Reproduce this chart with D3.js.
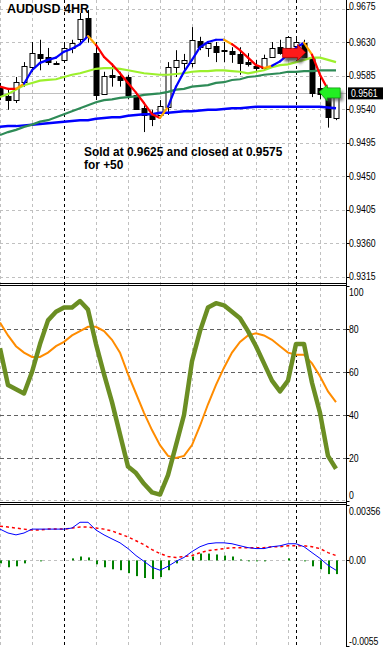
<!DOCTYPE html>
<html><head><meta charset="utf-8">
<script src="https://cdn.jsdelivr.net/npm/d3@7"></script>
<style>
html,body{margin:0;padding:0;background:#fff;}
svg{display:block;}
</style></head>
<body>
<svg id="c" width="384" height="647"></svg>
<script>
// ---------- DATA ----------
const title = "AUDUSD 4HR";
const noteLines = ["Sold at 0.9625 and closed at 0.9575", "for +50"];
const opens  = [.9570,.9557,.9552,.9576,.9596,.9614,.9610,.9602,.9606,.9622,.9634,.9662,.9615,.9560,.9586,.9584,.9583,.9559,.9541,.9532,.9532,.9543,.9597,.9602,.9602,.9631,.9622,.9625,.9619,.9618,.9614,.9603,.9598,.9595,.9610,.9623,.9622,.9624,.9629,.9610,.9568,.9561,.9528];
const highs  = [.9575,.9566,.9583,.9603,.9630,.9633,.9622,.9604,.9630,.9633,.9669,.9673,.9630,.9590,.9599,.9590,.9586,.9562,.9545,.9539,.9552,.9603,.9619,.9614,.9650,.9637,.9630,.9630,.9630,.9623,.9623,.9615,.9606,.9613,.9630,.9633,.9638,.9635,.9633,.9613,.9583,.9563,.9559];
const lows   = [.9552,.9539,.9548,.9570,.9590,.9592,.9599,.9600,.9603,.9615,.9629,.9629,.9552,.9559,.9570,.9570,.9553,.9539,.9509,.9517,.9530,.9532,.9583,.9590,.9596,.9619,.9610,.9603,.9603,.9602,.9586,.9597,.9590,.9592,.9609,.9613,.9619,.9618,.9609,.9556,.9553,.9515,.9525];
const closes = [.9559,.9552,.9576,.9598,.9615,.9609,.9603,.9601,.9622,.9629,.9661,.9637,.9559,.9584,.9583,.9578,.9559,.9540,.9532,.9527,.9544,.9597,.9606,.9606,.9633,.9623,.9629,.9617,.9617,.9614,.9602,.9600,.9595,.9609,.9622,.9615,.9637,.9630,.9610,.9562,.9560,.9529,.9557];
const fastMA = [.9570,.9567,.9567,.9574,.9592,.9602,.9606,.9609,.9617,.9621,.9627,.9638,.9626,.9610,.9600,.9588,.9575,.9562,.9548,.9533,.9528,.9543,.9570,.9590,.9606,.9623,.9630,.9633,.9633,.9627,.9619,.9609,.9599,.9595,.9598,.9604,.9613,.9622,.9629,.9613,.9586,.9566,.9559];
const limeMA = [.9556,.9560,.9566,.9572,.9575,.9578,.9579,.9580,.9583,.9586,.9588,.9591,.9594,.9595,.9595,.9594,.9592,.9590,.9588,.9587,.9586,.9586,.9587,.9588,.9590,.9591,.9591,.9592,.9592,.9591,.9590,.9588,.9590,.9592,.9596,.9599,.9600,.9603,.9606,.9609,.9609,.9606,.9603];
const greenMA = [.9505,.9509,.9512,.9516,.9519,.9523,.9525,.9529,.9533,.9537,.9541,.9545,.9549,.9552,.9553,.9555,.9556,.9557,.9559,.9560,.9561,.9563,.9566,.9567,.9570,.9571,.9572,.9575,.9576,.9579,.9580,.9583,.9584,.9586,.9587,.9588,.9590,.9590,.9591,.9591,.9592,.9592,.9592];
const blueMA = [.9516,.9517,.9517,.9518,.9519,.9520,.9521,.9522,.9523,.9524,.9525,.9525,.9527,.9528,.9529,.9529,.9531,.9532,.9533,.9533,.9535,.9535,.9536,.9537,.9537,.9538,.9539,.9539,.9540,.9541,.9541,.9542,.9543,.9543,.9543,.9543,.9543,.9543,.9543,.9543,.9543,.9542,.9541];
const stochK = [71,54,52,50,60,73,84,88,90,90,93,89,73,59,46,31,16,13,8,4,3,12,26,40,65,79,90,92,91,88,85,79,72,64,56,51,56,73,73,55,41,21,15];
const stochD = [83,77,72,69,67,67,69,72,74,77,79,81,81,79,75,69,59,50,41,33,26,21,20,21,26,35,45,54,62,69,74,77,78,77,75,72,69,68,68,64,58,51,46];
const macdMain = [.00201,.00176,.00164,.00176,.00201,.00201,.00201,.00201,.00201,.00208,.00245,.00245,.00195,.00164,.00138,.00113,.00076,.00031,-.00006,-.00044,-.00063,-.00038,-.00006,.00019,.00057,.00088,.00107,.00113,.00113,.00107,.00094,.00082,.00076,.00076,.00088,.00094,.00107,.00107,.00088,.00050,.00013,-.00031,-.00063];
const macdSignal = [.00220,.00214,.00208,.00201,.00195,.00195,.00201,.00201,.00201,.00208,.00214,.00214,.00208,.00201,.00189,.00170,.00151,.00126,.00101,.00069,.00044,.00025,.00019,.00025,.00031,.00050,.00063,.00069,.00076,.00082,.00082,.00082,.00082,.00082,.00088,.00088,.00094,.00094,.00094,.00088,.00076,.00050,.00031];
const macdHist = [-.00019,-.00044,-.00038,-.00019,0,-.00006,0,0,0,.00013,.00025,.00019,-.00025,-.00044,-.00057,-.00063,-.00082,-.00101,-.00113,-.00120,-.00107,-.00063,-.00019,0,.00025,.00044,.00044,.00038,.00031,.00025,.00006,-.00006,-.00006,-.00006,0,0,.00013,0,-.00006,-.00038,-.00057,-.00088,-.00088];
const priceTicks = [0.9675,0.9630,0.9585,0.9540,0.9495,0.9450,0.9405,0.9360,0.9315];
const stochTicks = [100,80,60,40,20,0];
const stochLevels = [80,60,40,20];
const macdTicks = [0.00356,0,-0.0055];
const macdTickLabels = ["0.00356","0.00","-0.0055"];
const bidPrice = 0.9561;
const sellArrow = {index: 38.2, price: 0.9616};
const closeArrow = {index: 39.9, price: 0.9563};
const separatorIndexes = [8, 37];

// ---------- LAYOUT ----------
const W = 384, H = 647, axisX = 346.5;
const svg = d3.select("#c");
const n = closes.length;
const x = d3.scaleLinear().domain([0, n - 1]).range([0, 8 * (n - 1)]);
const yP = d3.scaleLinear().domain([0.9315, 0.9675]).range([276.5, 8.5]);
const yS = d3.scaleLinear().domain([0, 100]).range([501, 286]);
const yM = d3.scaleLinear().domain([-0.0055, 0.00356]).range([646, 505]);
const panels = [{top: 0, bottom: 283}, {top: 286, bottom: 502}, {top: 505, bottom: 647}];
const FONT = "'Liberation Sans',Arial,sans-serif";
const NARROW = 0.79;

const defs = svg.append("defs");
panels.forEach((p, i) => {
  defs.append("clipPath").attr("id", "clip" + i).append("rect")
    .attr("x", 0).attr("y", p.top).attr("width", axisX).attr("height", p.bottom - p.top);
});
const blur = defs.append("filter").attr("id", "shadow").attr("x", "-30%").attr("y", "-30%").attr("width", "160%").attr("height", "160%");
blur.append("feGaussianBlur").attr("stdDeviation", 1.6);

// vertical grid
const gridXs = d3.range(0, axisX, 32);
svg.append("g").selectAll("line").data(gridXs).join("line")
  .attr("x1", d => d + 0.5).attr("x2", d => d + 0.5).attr("y1", 0).attr("y2", H)
  .attr("stroke", "#c0c0c0").attr("stroke-dasharray", "3,3");

// main horizontal grid
svg.append("g").selectAll("line").data(priceTicks).join("line")
  .attr("x1", 0).attr("x2", axisX).attr("y1", d => Math.round(yP(d)) + 0.5).attr("y2", d => Math.round(yP(d)) + 0.5)
  .attr("stroke", "#c0c0c0").attr("stroke-dasharray", "3,3");
svg.append("g").selectAll("line").data(stochLevels).join("line")
  .attr("x1", 0).attr("x2", axisX).attr("y1", d => Math.round(yS(d)) + 0.5).attr("y2", d => Math.round(yS(d)) + 0.5)
  .attr("stroke", "#606060").attr("stroke-dasharray", "4,3");
svg.append("line").attr("x1", 0).attr("x2", axisX).attr("y1", Math.round(yS(0)) - 0.5).attr("y2", Math.round(yS(0)) - 0.5)
  .attr("stroke", "#c0c0c0").attr("stroke-dasharray", "3,3");
svg.append("line").attr("x1", 0).attr("x2", axisX).attr("y1", Math.round(yM(0)) + 0.5).attr("y2", Math.round(yM(0)) + 0.5)
  .attr("stroke", "#c0c0c0").attr("stroke-dasharray", "3,3");

// period separators
svg.append("g").selectAll("line").data(separatorIndexes).join("line")
  .attr("x1", d => x(d) + 0.5).attr("x2", d => x(d) + 0.5).attr("y1", 0).attr("y2", H)
  .attr("stroke", "#000").attr("stroke-dasharray", "3,3");

// ---------- MAIN PANEL ----------
const main = svg.append("g").attr("clip-path", "url(#clip0)");
main.append("line").attr("x1", 0).attr("x2", axisX).attr("y1", Math.round(yP(bidPrice)) + 0.5).attr("y2", Math.round(yP(bidPrice)) + 0.5)
  .attr("stroke", "#c0c0c0");

const idx = d3.range(n);
main.append("g").selectAll("line").data(idx).join("line")
  .attr("x1", i => x(i) + 0.5).attr("x2", i => x(i) + 0.5)
  .attr("y1", i => yP(highs[i])).attr("y2", i => yP(lows[i]))
  .attr("stroke", "#000");
main.append("g").selectAll("rect").data(idx).join("rect")
  .attr("x", i => x(i) - 2).attr("width", 5)
  .attr("y", i => Math.round(yP(Math.max(opens[i], closes[i]))) + 0.5)
  .attr("height", i => Math.max(1, Math.round(Math.abs(yP(opens[i]) - yP(closes[i])))))
  .attr("fill", i => closes[i] >= opens[i] ? "#fff" : "#000")
  .attr("stroke", "#000");

const lineP = arr => d3.line().x((d, i) => x(i)).y(d => yP(d))(arr);
main.append("path").attr("d", lineP(blueMA)).attr("fill", "none").attr("stroke", "#0000ff").attr("stroke-width", 2.5);
main.append("path").attr("d", lineP(greenMA)).attr("fill", "none").attr("stroke", "#2e8b57").attr("stroke-width", 2.2);
main.append("path").attr("d", lineP(limeMA)).attr("fill", "none").attr("stroke", "#9cf02c").attr("stroke-width", 2.2);

const segs = [];
let prevDir = 0;
for (let i = 1; i < n; i++) {
  let dir = Math.sign(fastMA[i] - fastMA[i - 1]);
  if (dir === 0) dir = prevDir;
  let col = dir > 0 ? "#0000ff" : "#ff0000";
  if (i > 1 && dir !== prevDir) col = "#ffa500";
  segs.push({a: i - 1, b: i, col});
  prevDir = dir;
}
main.append("g").selectAll("line").data(segs).join("line")
  .attr("x1", d => x(d.a)).attr("y1", d => yP(fastMA[d.a]))
  .attr("x2", d => x(d.b)).attr("y2", d => yP(fastMA[d.b]))
  .attr("stroke", d => d.col).attr("stroke-width", 2.2).attr("stroke-linecap", "round");

function rightArrow(g, tx, ty, fill, dark) {
  const pts = [[tx - 23, ty - 4], [tx - 8, ty - 4], [tx - 8, ty - 8], [tx, ty], [tx - 8, ty + 8], [tx - 8, ty + 5], [tx - 23, ty + 5]];
  g.append("polygon").attr("points", pts.map(p => [p[0] + 2, p[1] + 4]).join(" ")).attr("fill", "#333").attr("opacity", 0.8).attr("filter", "url(#shadow)");
  g.append("polygon").attr("points", pts.join(" ")).attr("fill", fill).attr("stroke", dark).attr("stroke-width", 0.8);
}
function leftArrow(g, tx, ty, fill, dark) {
  const pts = [[tx, ty], [tx + 8, ty - 7], [tx + 8, ty - 4], [tx + 21, ty - 4], [tx + 21, ty + 6], [tx + 8, ty + 6], [tx + 8, ty + 9]];
  g.append("polygon").attr("points", pts.map(p => [p[0] + 3, p[1] + 3]).join(" ")).attr("fill", "#555").attr("opacity", 0.7).attr("filter", "url(#shadow)");
  g.append("polygon").attr("points", pts.join(" ")).attr("fill", fill).attr("stroke", dark).attr("stroke-width", 0.8);
}
rightArrow(main, x(sellArrow.index), yP(sellArrow.price), "#ff1a1a", "#b00000");
leftArrow(main, x(closeArrow.index), yP(closeArrow.price), "#22ee22", "#119911");

// texts
svg.append("text").attr("x", 7).attr("y", 13).text(title)
  .attr("font-family", FONT).attr("font-weight", "bold").attr("font-size", 12.5).attr("fill", "#000");
svg.append("g").selectAll("text").data(noteLines).join("text")
  .attr("x", 84).attr("y", (d, i) => 155.5 + i * 13.4).text(d => d)
  .attr("font-family", FONT).attr("font-weight", "bold").attr("font-size", 11.9).attr("fill", "#000");

// ---------- STOCH ----------
const st = svg.append("g").attr("clip-path", "url(#clip1)");
const lineS = arr => d3.line().x((d, i) => x(i)).y(d => yS(d))(arr);
st.append("path").attr("d", lineS(stochD)).attr("fill", "none").attr("stroke", "#ff8c00").attr("stroke-width", 2);
st.append("path").attr("d", lineS(stochK)).attr("fill", "none").attr("stroke", "#6b8e23").attr("stroke-width", 4.5).attr("stroke-linejoin", "round");

// ---------- MACD ----------
const mc = svg.append("g").attr("clip-path", "url(#clip2)");
mc.append("g").selectAll("rect").data(idx.filter(i => macdHist[i] !== 0)).join("rect")
  .attr("x", i => x(i)).attr("width", 2)
  .attr("y", i => Math.min(yM(0), yM(macdHist[i])))
  .attr("height", i => Math.abs(yM(macdHist[i]) - yM(0)))
  .attr("fill", "#008000");
const lineM = arr => d3.line().x((d, i) => x(i)).y(d => yM(d))(arr);
mc.append("path").attr("d", lineM(macdSignal)).attr("fill", "none").attr("stroke", "#ff0000").attr("stroke-width", 1.5).attr("stroke-dasharray", "3,3");
mc.append("path").attr("d", lineM(macdMain)).attr("fill", "none").attr("stroke", "#0000ff").attr("stroke-width", 1);

// ---------- SEPARATORS & AXIS ----------
[283.5, 285.5, 502.5, 504.5].forEach(yy => {
  svg.append("line").attr("x1", 0).attr("x2", axisX).attr("y1", yy).attr("y2", yy).attr("stroke", "#000");
});
svg.append("line").attr("x1", axisX).attr("x2", axisX).attr("y1", 0).attr("y2", H).attr("stroke", "#000");

function axisLabels(ticks, scale, fmt, adjust) {
  const g = svg.append("g");
  g.selectAll("line").data(ticks).join("line")
    .attr("x1", axisX).attr("x2", axisX + 3)
    .attr("y1", d => Math.round(scale(d)) + 0.5).attr("y2", d => Math.round(scale(d)) + 0.5)
    .attr("stroke", "#000");
  g.selectAll("text").data(ticks).join("text")
    .attr("transform", (d, i) => `translate(349,${scale(d) + adjust(i)}) scale(${NARROW},1)`)
    .attr("dy", "0.35em").text((d, i) => fmt(d, i))
    .attr("font-family", FONT).attr("font-size", 11).attr("fill", "#000");
}
axisLabels(priceTicks, yP, d => d.toFixed(4), i => i === 0 ? -2 : 0);
axisLabels(stochTicks, yS, d => String(d), i => i === 0 ? 6 : (i === stochTicks.length - 1 ? -6 : 0));
axisLabels(macdTicks, yM, (d, i) => macdTickLabels[i], i => i === 0 ? 6 : (i === 2 ? -5 : 0));

// bid price box
const by = yP(bidPrice);
svg.append("rect").attr("x", 348).attr("y", by - 6).attr("width", 35).attr("height", 12).attr("fill", "#000");
svg.append("text").attr("transform", `translate(351,${by}) scale(${NARROW},1)`).attr("dy", "0.35em").text(bidPrice.toFixed(4))
  .attr("font-family", FONT).attr("font-size", 11).attr("fill", "#fff");
</script>
</body></html>
